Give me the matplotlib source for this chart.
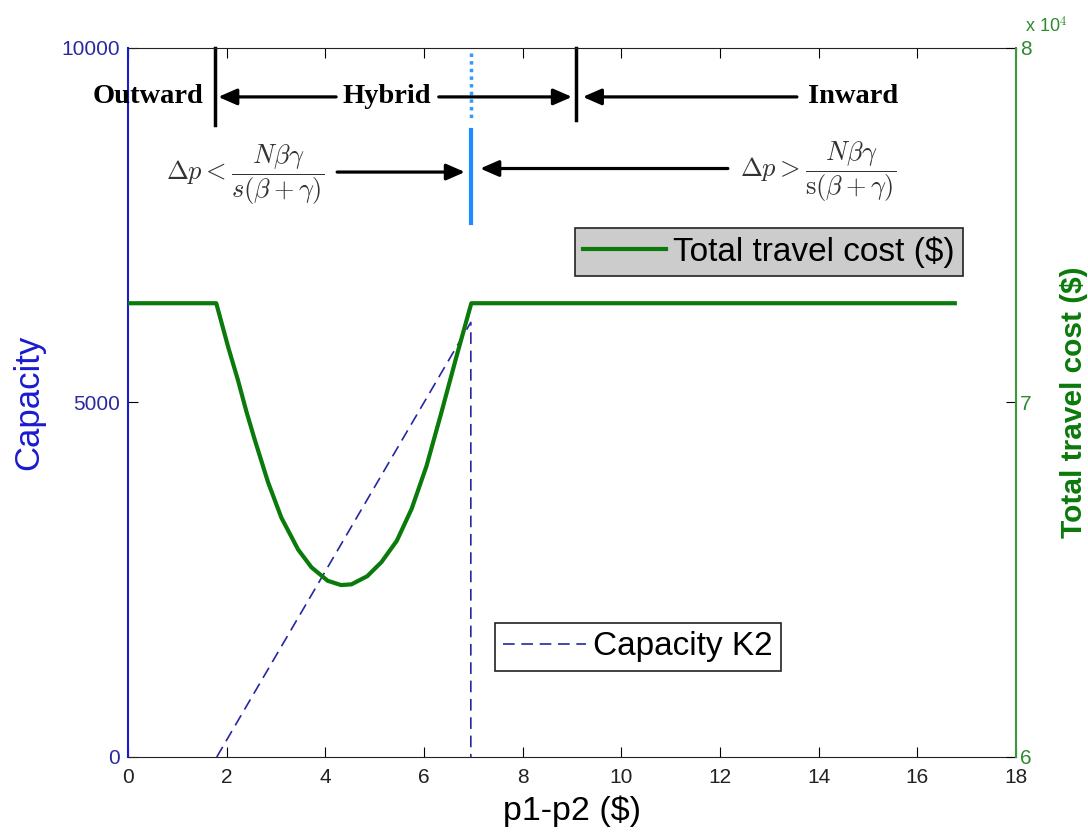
import matplotlib
matplotlib.use("Agg")
import matplotlib.pyplot as plt
from matplotlib.ticker import FuncFormatter

plt.rcParams["font.family"] = ["Liberation Sans", "DejaVu Sans"]
plt.rcParams["mathtext.fontset"] = "cm"

# price difference p1-p2 ($) and total travel cost ($)
price_diff = [0.0, 1.79, 2.03, 2.23, 2.40, 2.57, 2.84, 3.11, 3.45, 3.72, 4.05,
              4.32, 4.53, 4.85, 5.14, 5.45, 5.75, 6.05, 6.35, 6.66, 6.96, 16.76]
travel_cost = [72800, 72800, 71570, 70630, 69750, 68950, 67750, 66750, 65850,
               65350, 64970, 64850, 64870, 65100, 65500, 66100, 67000, 68200,
               69700, 71300, 72800, 72800]

# capacity of K2 along the hybrid range
cap_x = [1.80, 6.95, 6.95]
cap_k2 = [0, 6130, 0]

# regime boundaries
outward_edge = 1.76
switch_point = 6.95
inward_edge = 9.08

blue = "#1a1ad0"
green = "#0a7a0a"
serif = ["Liberation Serif", "DejaVu Serif"]

fig = plt.figure(figsize=(10.88, 8.36), dpi=100)
ax = fig.add_axes([0.1176, 0.0945, 0.8162, 0.8481])
ax2 = ax.twinx()

cap_line, = ax.plot(cap_x, cap_k2, color="#2626a6", lw=1.2,
                    linestyle=(0, (7, 4)), label="Capacity K2")
cost_line, = ax2.plot(price_diff, travel_cost, color=green, lw=3,
                      label="Total travel cost ($)")

ax.set_xlim(0, 18)
ax.set_ylim(0, 10000)
ax2.set_ylim(60000, 80000)
ax.set_xticks(range(0, 19, 2))
ax.set_yticks([0, 5000, 10000])
ax2.set_yticks([60000, 70000, 80000])
ax2.yaxis.set_major_formatter(FuncFormatter(lambda v, p: f"{v / 1e4:g}"))

ax.tick_params(axis="x", direction="in", top=True, length=7, labelsize=15,
               colors="black", labelcolor="#222222", pad=8)
ax.tick_params(axis="y", direction="in", length=7, labelsize=15,
               colors="black", labelcolor="#2a2aa0", pad=6)
ax2.tick_params(axis="y", direction="in", length=7, labelsize=15,
                colors="black", labelcolor="#2e8b2e", pad=3)

ax.spines["left"].set_color(blue)
ax.spines["left"].set_linewidth(1.5)
ax2.spines["left"].set_visible(False)
ax2.spines["right"].set_color("#3a9a3a")
ax2.spines["right"].set_linewidth(1.5)
ax.spines["right"].set_visible(False)
for s in ("top", "bottom"):
    ax.spines[s].set_color("#222222")
    ax2.spines[s].set_visible(False)

ax.set_xlabel("p1-p2 ($)", fontsize=24.5, labelpad=6)
ax.set_ylabel("Capacity", fontsize=25, color=blue, labelpad=11)
ax2.set_ylabel("Total travel cost ($)", fontsize=21.5, color=green,
               fontweight="bold", labelpad=20)
ax2.text(1.01, 1.016, r"x 10$^{4}$", transform=ax2.transAxes, color="#2e8b2e",
         fontsize=13, ha="left", va="bottom")

# regime markers along the top
ax.plot([outward_edge, outward_edge], [10000, 8914], color="black", lw=2.5,
        clip_on=False)
ax.plot([inward_edge, inward_edge], [10000, 8984], color="black", lw=2.5,
        clip_on=False)
ax.plot([switch_point, switch_point], [9930, 8984], color="#3399ff", lw=2.5,
        linestyle=(0, (1, 1.2)))
ax.plot([switch_point, switch_point], [8843, 7532], color="#1e8cff", lw=3)

arrow = dict(arrowstyle="-|>,head_length=0.8,head_width=0.35", color="black",
             lw=2.3, shrinkA=0, shrinkB=0, mutation_scale=14)
ax.annotate("", xy=(1.83, 9310), xytext=(4.22, 9310), arrowprops=arrow)
ax.annotate("", xy=(9.0, 9310), xytext=(6.30, 9310), arrowprops=arrow)
ax.annotate("", xy=(9.22, 9310), xytext=(13.56, 9310), arrowprops=arrow)
ax.annotate("", xy=(6.83, 8250), xytext=(4.24, 8250), arrowprops=arrow)
ax.annotate("", xy=(7.14, 8300), xytext=(12.16, 8300), arrowprops=arrow)

ax.text(0.40, 9310, "Outward", family=serif, fontweight="bold", fontsize=20.5,
        ha="center", va="center")
ax.text(5.25, 9310, "Hybrid", family=serif, fontweight="bold", fontsize=20.5,
        ha="center", va="center")
ax.text(14.70, 9310, "Inward", family=serif, fontweight="bold", fontsize=20.5,
        ha="center", va="center")
ax.text(2.37, 8210, r"$\Delta p < \dfrac{N\beta\gamma}{s(\beta+\gamma)}$",
        fontsize=19, ha="center", va="center", color="#333333")
ax.text(13.99, 8250, r"$\Delta p > \dfrac{N\beta\gamma}{\mathrm{s}(\beta+\gamma)}$",
        fontsize=19, ha="center", va="center", color="#333333")

leg1 = ax2.legend(handles=[cost_line], loc="upper left",
                  bbox_to_anchor=(0.503, 0.746), borderaxespad=0, fontsize=24,
                  fancybox=False, facecolor="#cccccc", edgecolor="#222222",
                  framealpha=1, handlelength=2.5, handletextpad=0.2,
                  borderpad=0.25)
leg1.get_frame().set_linewidth(1.2)
leg2 = ax2.legend(handles=[cap_line], loc="upper left",
                  bbox_to_anchor=(0.413, 0.189), borderaxespad=0, fontsize=24,
                  fancybox=False, facecolor="white", edgecolor="#222222",
                  framealpha=1, handlelength=2.5, handletextpad=0.2,
                  borderpad=0.25)
leg2.get_frame().set_linewidth(1.2)
ax2.add_artist(leg1)

fig.savefig("out.png", dpi=100)
